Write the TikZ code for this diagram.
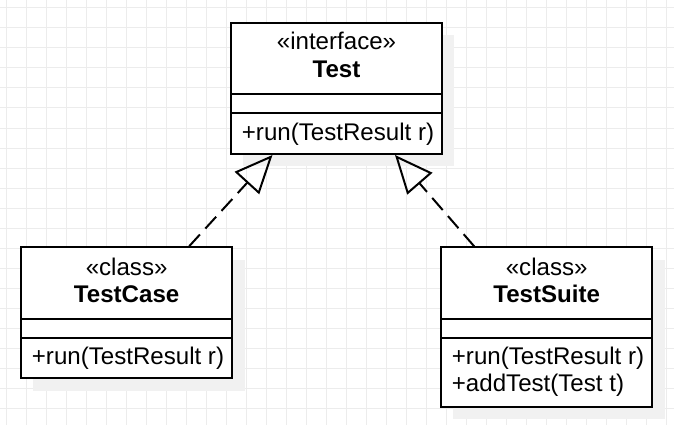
\documentclass[tikz,border=0pt]{standalone}
\usepackage{fontspec}
\setmainfont{Liberation Sans}
\usetikzlibrary{arrows.meta,calc}
\definecolor{gridc}{RGB}{236,236,236}
\definecolor{shadowc}{RGB}{241,241,241}
\tikzset{
  umlbox/.style={draw=black, line width=2pt, fill=white, rectangle, inner sep=0pt},
  shadowbox/.style={fill=shadowc, draw=none},
  sepline/.style={line width=2pt},
  txt/.style={inner sep=0pt, font=\fontsize{24.1}{28}\selectfont},
  boldtxt/.style={txt, font=\fontsize{24.1}{28}\selectfont\bfseries},
  realize/.style={line width=2pt, dash pattern=on 16pt off 8pt,
    -{Triangle[open, length=38pt, width=33pt, line width=2pt]}},
  gridline/.style={draw=gridc, line width=1pt}
}
\begin{document}
\begin{tikzpicture}[x=1pt, y=-1pt]
\useasboundingbox (0,0) rectangle (674,425);
\fill[white] (0,0) rectangle (674,425);
\foreach \x in {6,26,...,674} \draw[gridline] (\x,0) -- (\x,425);
\foreach \y in {8,28,...,425} \draw[gridline] (0,\y) -- (674,\y);
% shadows
\fill[shadowbox] (243,35) rectangle (454,166);
\fill[shadowbox] (33,260) rectangle (245,391);
\fill[shadowbox] (453,260) rectangle (665,419);
% boxes
\node[umlbox, minimum width=211pt, minimum height=131.3pt] (test) at (336.5,88.35) {};
\node[umlbox, minimum width=211.3pt, minimum height=131pt] (tc) at (126.65,312.8) {};
\node[umlbox, minimum width=211.3pt, minimum height=159.4pt] (ts) at (546.65,327) {};
% separators
\draw[sepline] ($(test.west)+(0,5.65)$) -- ($(test.east)+(0,5.65)$);
\draw[sepline] ($(test.west)+(0,24.35)$) -- ($(test.east)+(0,24.35)$);
\draw[sepline] ($(tc.west)+(0,6.5)$) -- ($(tc.east)+(0,6.5)$);
\draw[sepline] ($(tc.west)+(0,25.2)$) -- ($(tc.east)+(0,25.2)$);
\draw[sepline] ($(ts.west)+(0,-7.7)$) -- ($(ts.east)+(0,-7.7)$);
\draw[sepline] ($(ts.west)+(0,11)$) -- ($(ts.east)+(0,11)$);
% texts
\node[txt, anchor=base] (tster) at (336.5,49.3) {«interface»};
\node[boldtxt, anchor=base] (tname) at (336.5,77.7) {Test};
\node[txt, anchor=base west] (top1) at (241.7,140) {+run(TestResult r)};
\node[txt, anchor=base] (cster) at (126.65,275) {«class»};
\node[boldtxt, anchor=base] (cname) at (126.65,302.7) {TestCase};
\node[txt, anchor=base west] (cop1) at (31.7,364) {+run(TestResult r)};
\node[txt, anchor=base] (sster) at (546.65,275) {«class»};
\node[boldtxt, anchor=base] (sname) at (546.65,302.7) {TestSuite};
\node[txt, anchor=base west] (sop1) at (451.7,364) {+run(TestResult r)};
\node[txt, anchor=base west] (sop2) at (451.7,391.7) {+addTest(Test t)};
% realizations
\draw[realize] ($(tc.north)+(62.5,0)$) -- ($(test.south)+(-64,0)$);
\draw[realize] ($(ts.north)+(-72.5,0)$) -- ($(test.south)+(58.5,0)$);
\end{tikzpicture}
\end{document}
